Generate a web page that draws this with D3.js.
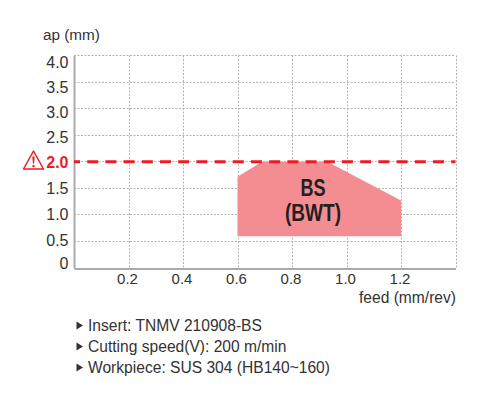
<!DOCTYPE html>
<html>

<head>
    <meta charset="utf-8" />
    <title>BS (BWT)</title>
    <style>
        html, body {
            margin: 0;
            padding: 0;
            background: #fff;
        }

        svg {
            display: block;
        }

        text {
            font-family: "Liberation Sans", Arial, sans-serif;
            fill: #333;
        }
    </style>
    <script src="https://d3js.org/d3.v7.min.js"></script>
</head>

<body>
    <div id="chart"></div>
    <script>
        var xTicks = [0.2, 0.4, 0.6, 0.8, 1.0, 1.2]
        var xGrid = [0.2, 0.4, 0.6, 0.8, 1.0, 1.2, 1.4]
        var yTicks = [0, 0.5, 1.0, 1.5, 2.0, 2.5, 3.0, 3.5, 4.0]
        var areaFeed = [0.6, 0.6, 0.69, 0.93, 1.2, 1.2]
        var areaDepth = [0.6, 1.72, 2.0, 2.0, 1.27, 0.6]
        var limitDepth = 2.0
        var notes = ["Insert: TNMV 210908-BS", "Cutting speed(V): 200 m/min", "Workpiece: SUS 304 (HB140~160)"]

        var width = 495
        var height = 394

        var svg = d3.select("#chart").append("svg")
            .attr("width", width)
            .attr("height", height)

        var x = d3.scaleLinear().domain([0, 1.4]).range([74, 455.5])
        var y = d3.scaleLinear().domain([0, 4]).range([268, 55.5])
        // the y labels sit closer together than the grid in the original
        var yLabel = d3.scaleLinear().domain([0, 0.5, 2.0, 4.0]).range([263, 239.5, 161.5, 62])

        // grid
        var grid = svg.append("g")
            .attr("stroke", "#b5b5b5")
            .attr("stroke-width", 1)
            .attr("stroke-dasharray", "2,1.5")
        grid.selectAll(".gx").data(xGrid).enter().append("line")
            .attr("x1", function(d) { return Math.round(x(d)) + 0.5 })
            .attr("x2", function(d) { return Math.round(x(d)) + 0.5 })
            .attr("y1", y(4))
            .attr("y2", y(0))
        grid.selectAll(".gy").data(yTicks.filter(function(d) { return d > 0 })).enter().append("line")
            .attr("x1", x(0))
            .attr("x2", x(1.4))
            .attr("y1", function(d) { return Math.floor(y(d)) + 0.5 })
            .attr("y2", function(d) { return Math.floor(y(d)) + 0.5 })

        // working area
        var area = d3.line()
            .x(function(d) { return x(d) })
            .y(function(d, i) { return y(areaDepth[i]) })
        svg.append("path")
            .attr("d", area(areaFeed) + "Z")
            .attr("fill", "#f48d92")

        svg.append("text")
            .attr("x", x(0.877))
            .attr("y", 196)
            .attr("text-anchor", "middle")
            .attr("font-size", 23)
            .attr("font-weight", 700)
            .attr("textLength", 25)
            .attr("lengthAdjust", "spacingAndGlyphs")
            .style("fill", "#231f20")
            .text("BS")
        svg.append("text")
            .attr("x", x(0.877))
            .attr("y", 221)
            .attr("text-anchor", "middle")
            .attr("font-size", 23)
            .attr("font-weight", 700)
            .attr("textLength", 56)
            .attr("lengthAdjust", "spacingAndGlyphs")
            .style("fill", "#231f20")
            .text("(BWT)")

        // axes
        var axisX = svg.append("g")
            .attr("transform", "translate(0,268.5)")
            .call(d3.axisBottom(x).tickValues(xTicks).tickSize(0).tickPadding(5).tickFormat(d3.format(".1f")))
        axisX.select(".domain").attr("stroke", "#aaa").attr("stroke-width", 2)
        axisX.selectAll("text")
            .attr("font-size", 15)
            .attr("font-family", null)
            .attr("dx", -1.5)

        var axisY = svg.append("g")
            .attr("transform", "translate(74,0)")
            .call(d3.axisLeft(y).tickValues(yTicks).tickSize(0).tickPadding(5.5).tickFormat(function(d) {
                return d === 0 ? "0" : d3.format(".1f")(d)
            }))
        axisY.select(".domain").attr("stroke", "#aaa").attr("stroke-width", 2)
        axisY.selectAll("text")
            .attr("font-size", 16)
            .attr("font-family", null)
            .attr("dy", "0.36em")
            .attr("transform", function(d) { return "translate(0," + (yLabel(d) - y(d)) + ")" })
            .style("fill", function(d) { return d === limitDepth ? "#ed1c24" : "#333" })
            .style("font-weight", function(d) { return d === limitDepth ? 700 : 400 })

        // limit line
        svg.append("line")
            .attr("x1", x(0))
            .attr("x2", x(1.4))
            .attr("y1", y(limitDepth))
            .attr("y2", y(limitDepth))
            .attr("stroke", "#ed1c24")
            .attr("stroke-width", 3)
            .attr("stroke-dasharray", "11,7.2")
            .attr("stroke-dashoffset", 5)

        // warning icon
        var warn = svg.append("g").attr("transform", "translate(33.5,161)")
        warn.append("path")
            .attr("d", "M0,-10L10,8L-10,8Z")
            .attr("fill", "#fff")
            .attr("stroke", "#ed1c24")
            .attr("stroke-width", 1.5)
            .attr("stroke-linejoin", "round")
        warn.append("path")
            .attr("d", "M-1.2,-4.5L1.2,-4.5L0.6,2.5L-0.6,2.5Z")
            .attr("fill", "#ed1c24")
        warn.append("circle")
            .attr("cy", 5)
            .attr("r", 1.2)
            .attr("fill", "#ed1c24")

        // axis titles
        svg.append("text")
            .attr("x", 43)
            .attr("y", 40)
            .attr("font-size", 15.3)
            .text("ap (mm)")
        svg.append("text")
            .attr("x", 456)
            .attr("y", 303)
            .attr("text-anchor", "end")
            .attr("font-size", 15.6)
            .text("feed (mm/rev)")

        // notes under the chart
        var note = svg.selectAll(".note").data(notes).enter().append("g")
            .attr("class", "note")
            .attr("transform", function(d, i) { return "translate(0," + (325.5 + i * 21) + ")" })
        note.append("path")
            .attr("d", "M76.5,-4L83,0L76.5,4Z")
            .attr("fill", "#333")
        note.append("text")
            .attr("x", 88)
            .attr("y", 0)
            .attr("dy", "0.35em")
            .attr("font-size", 15.6)
            .text(function(d) { return d })
    </script>
</body>

</html>
